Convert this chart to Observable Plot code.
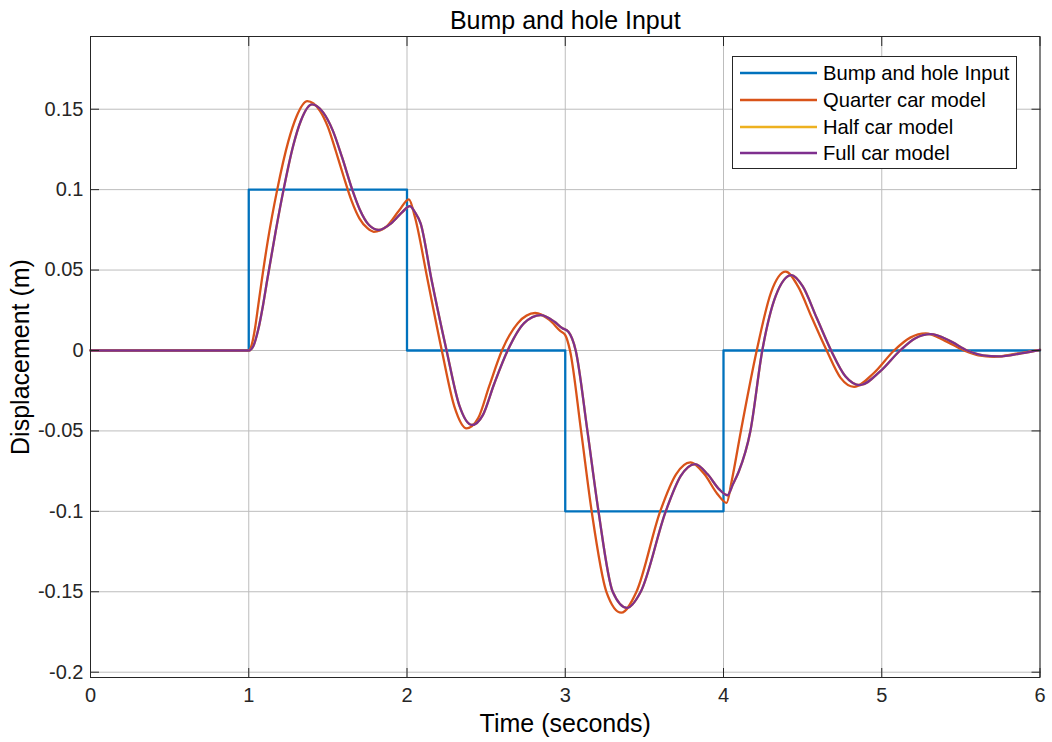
<!DOCTYPE html>
<html>
<head>
<meta charset="utf-8">
<script src="https://cdn.jsdelivr.net/npm/d3@7"></script>
<script src="https://cdn.jsdelivr.net/npm/@observablehq/plot@0.6"></script>
<style>
  html, body { margin: 0; padding: 0; background: #fff; }
  #wrap { position: relative; width: 1052px; height: 742px; font-family: "Liberation Sans", Arial, Helvetica, sans-serif; }
  #legend { position: absolute; left: 732px; top: 56px; width: 285px; height: 113px; border: 1px solid #262626; background: #fff; box-sizing: border-box; }
  .row { position: absolute; left: 0; height: 26px; width: 100%; }
  .row svg { position: absolute; left: 7px; top: 0; }
  .row span { position: absolute; left: 90px; top: 0; font-size: 20.2px; line-height: 26px; color: #000; white-space: nowrap; }
</style>
</head>
<body>
<div id="wrap"></div>
<script>
const seriesNames = ["Bump and hole Input", "Quarter car model", "Half car model", "Full car model"];
const seriesColors = ["#0072BD", "#D95319", "#EDB120", "#7E2F8E"];

const xTicks = [0, 1, 2, 3, 4, 5, 6];
const yTicks = [-0.2, -0.15, -0.1, -0.05, 0, 0.05, 0.1, 0.15];

// Bump and hole road input (step-after)
const inputTime  = [0, 1, 2, 3, 4, 6];
const inputValue = [0, 0.1, 0, -0.1, 0, 0];

// Quarter car model response
const quarterTime = [0, 1, 1.02, 1.04, 1.06, 1.08, 1.12, 1.18, 1.25, 1.3, 1.37, 1.45, 1.5, 1.55, 1.6, 1.65, 1.7, 1.75, 1.79, 1.87, 1.95, 2.012, 2.05, 2.13, 2.22, 2.3, 2.377, 2.45, 2.52, 2.6, 2.7, 2.81, 2.9, 2.97, 3.0, 3.03, 3.1, 3.167, 3.26, 3.354, 3.45, 3.6, 3.7, 3.79, 3.88, 3.96, 4.02, 4.05, 4.11, 4.21, 4.3, 4.393, 4.47, 4.56, 4.652, 4.74, 4.825, 4.95, 5.078, 5.18, 5.278, 5.4, 5.52, 5.61, 5.71, 5.85, 6.0];
const quarterValue = [0, 0, 0.004, 0.014, 0.028, 0.042, 0.068, 0.1, 0.13, 0.145, 0.155, 0.149, 0.139, 0.124, 0.108, 0.093, 0.082, 0.076, 0.0738, 0.077, 0.087, 0.094, 0.083, 0.044, 0, -0.035, -0.0484, -0.042, -0.022, 0, 0.017, 0.0233, 0.019, 0.012, 0.0096, 0, -0.05, -0.1, -0.15, -0.163, -0.15, -0.1, -0.077, -0.0696, -0.077, -0.089, -0.0947, -0.082, -0.05, 0, 0.036, 0.049, 0.04, 0.02, 0, -0.017, -0.0226, -0.014, 0, 0.008, 0.0106, 0.006, 0, -0.003, -0.0039, -0.002, 0.0004];

// Full car model response
const fullTime = [0, 1, 1.03, 1.06, 1.09, 1.117, 1.17, 1.22, 1.28, 1.33, 1.4, 1.47, 1.53, 1.59, 1.654, 1.7, 1.76, 1.822, 1.9, 1.97, 2.018, 2.05, 2.086, 2.155, 2.25, 2.33, 2.41, 2.48, 2.55, 2.636, 2.74, 2.845, 2.93, 2.98, 3.02, 3.066, 3.14, 3.21, 3.3, 3.39, 3.477, 3.635, 3.73, 3.82, 3.9, 3.97, 4.025, 4.06, 4.096, 4.17, 4.245, 4.33, 4.43, 4.5, 4.59, 4.68, 4.77, 4.863, 4.99, 5.116, 5.21, 5.31, 5.43, 5.54, 5.64, 5.74, 5.88, 6.0];
const fullValue = [0, 0, 0.003, 0.013, 0.028, 0.044, 0.074, 0.1, 0.127, 0.143, 0.153, 0.148, 0.137, 0.12, 0.1, 0.088, 0.078, 0.0749, 0.079, 0.086, 0.0898, 0.086, 0.079, 0.044, 0, -0.034, -0.0463, -0.04, -0.021, 0, 0.017, 0.022, 0.018, 0.014, 0.0116, 0, -0.05, -0.1, -0.15, -0.16, -0.15, -0.1, -0.078, -0.0706, -0.077, -0.086, -0.09, -0.083, -0.0754, -0.05, 0, 0.034, 0.0469, 0.04, 0.02, 0, -0.016, -0.0215, -0.013, 0, 0.0075, 0.0102, 0.006, 0, -0.003, -0.0037, -0.0018, 0.0004];

// Half car model response (coincides with the full car model, drawn underneath)
const halfTime = fullTime.slice();
const halfValue = fullValue.slice();

const toRows = (ts, vs) => ts.map((t, i) => ({t, v: vs[i]}));
const inputRows = toRows(inputTime, inputValue);
const quarterRows = toRows(quarterTime, quarterValue);
const halfRows = toRows(halfTime, halfValue);
const fullRows = toRows(fullTime, fullValue);

const fmt = d => String(Math.round(d * 100) / 100);
const FONT = "'Liberation Sans', Arial, Helvetica, sans-serif";
const lw = 2.3;

const chart = Plot.plot({
  width: 1052,
  height: 742,
  marginTop: 36,
  marginBottom: 65,
  marginLeft: 90,
  marginRight: 12.5,
  x: {domain: [0, 6]},
  y: {domain: [-0.2033, 0.1952]},
  style: {fontFamily: FONT, fontSize: "20px", color: "#262626", background: "#fff", overflow: "visible"},
  marks: [
    Plot.gridX(xTicks, {stroke: "#bdbdbd", strokeOpacity: 1}),
    Plot.gridY(yTicks, {stroke: "#bdbdbd", strokeOpacity: 1}),
    Plot.line(inputRows, {x: "t", y: "v", curve: "step-after", stroke: seriesColors[0], strokeWidth: lw}),
    Plot.line(quarterRows, {x: "t", y: "v", curve: "monotone-x", stroke: seriesColors[1], strokeWidth: lw}),
    Plot.line(halfRows, {x: "t", y: "v", curve: "monotone-x", stroke: seriesColors[2], strokeWidth: lw}),
    Plot.line(fullRows, {x: "t", y: "v", curve: "monotone-x", stroke: seriesColors[3], strokeWidth: lw}),
    Plot.frame({stroke: "#262626", strokeWidth: 1}),
    Plot.axisX(xTicks, {anchor: "bottom", tickSize: -9, tickPadding: 19, tickFormat: d => String(d), label: null, fontSize: 20, stroke: "#262626", fill: "#262626"}),
    Plot.axisX(xTicks, {anchor: "top", tickSize: -9, tickFormat: () => "", label: null, stroke: "#262626"}),
    Plot.axisY(yTicks, {anchor: "left", tickSize: -9, tickPadding: 16, tickFormat: fmt, label: null, fontSize: 20, stroke: "#262626", fill: "#262626"}),
    Plot.axisY(yTicks, {anchor: "right", tickSize: -9, tickFormat: () => "", label: null, stroke: "#262626"}),
    Plot.text(["Bump and hole Input"], {frameAnchor: "top", dy: -16, fontSize: 25, fill: "#000", lineAnchor: "middle"}),
    Plot.text(["Time (seconds)"], {frameAnchor: "bottom", dy: 46, fontSize: 25, fill: "#000", lineAnchor: "middle"}),
    Plot.text(["Displacement (m)"], {frameAnchor: "left", dx: -69.5, rotate: -90, fontSize: 25, fill: "#000", lineAnchor: "middle", textAnchor: "middle"})
  ]
});

const wrap = document.getElementById("wrap");
wrap.appendChild(chart);

// Legend overlay (inside the axes, top right)
const legend = document.createElement("div");
legend.id = "legend";
const rowTops = [3, 30, 57, 83];
seriesNames.forEach((name, i) => {
  const row = document.createElement("div");
  row.className = "row";
  row.style.top = rowTops[i] + "px";
  row.innerHTML = `<svg width="78" height="26"><line x1="0" x2="77" y1="13" y2="13" stroke="${seriesColors[i]}" stroke-width="${lw}"/></svg><span>${name}</span>`;
  legend.appendChild(row);
});
wrap.appendChild(legend);
</script>
</body>
</html>
